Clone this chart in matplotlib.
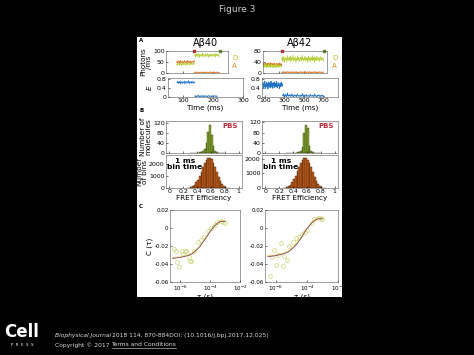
import numpy as np
import matplotlib
matplotlib.use("Agg")
import matplotlib.pyplot as plt

W, H = 474, 355

# ---- dados: traços de fótons (A) ----
# Abeta40: limites dos segmentos (ms)
t40_pre = (80, 139)
t40_pos = (139, 222)
d40_pre = [38, 42, 35, 44, 40, 36, 47, 41, 33, 45, 39, 43, 37, 48, 40, 35, 42, 46, 38, 41, 44, 36, 40, 47, 39, 43, 37, 42, 45, 40]
a40_pre = [50, 45, 55, 48, 52, 44, 58, 47, 51, 46, 54, 49, 43, 56, 50, 47, 53, 45, 57, 49, 52, 46, 55, 48, 44, 53, 50, 47, 56, 51]
d40_pos = [78, 84, 72, 88, 80, 75, 90, 82, 70, 86, 79, 83, 74, 91, 77, 85, 81, 73, 87, 80, 76, 89, 82, 71,
           84, 78, 86, 74, 83, 80, 88, 76, 81, 85, 72, 90, 79, 83, 77, 86, 80, 75]
a40_pos = [2, 4, 1, 3, 5, 2, 0, 3, 4, 1, 2, 5, 3, 1, 4, 2, 3, 0, 5, 2, 1, 3, 4, 2, 1, 3, 5, 2, 4, 1, 3, 2, 0, 4, 3, 1, 2, 5, 3, 2, 1, 3]

# Abeta42
t42_pre = (80, 272)
t42_pos = (272, 705)
d42_pre = [24, 28, 20, 31, 25, 22, 33, 26, 19, 29, 23, 27, 21, 32, 25, 24, 30, 20, 27, 23, 34, 26, 22, 28, 19,
           31, 25, 23, 29, 21, 27, 33, 24, 20, 28, 26, 22, 30, 25, 21, 29, 24, 27, 23, 26]
a42_pre = [31, 27, 35, 29, 33, 26, 37, 30, 28, 34, 32, 25, 36, 29, 31, 27, 33, 38, 28, 30, 26, 35, 31, 29, 34,
           27, 32, 36, 28, 30, 25, 33, 29, 35, 31, 27, 34, 30, 28, 32, 36, 29, 31, 27, 33]
d42_pos = [48, 56, 42, 61, 50, 38, 58, 47, 53, 40, 63, 49, 55, 44, 52, 60, 41, 57, 46, 51, 65, 43, 54, 48, 59,
           39, 52, 47, 62, 45, 56, 50, 41, 58, 53, 46, 64, 49, 55, 43, 51, 60, 44, 57, 48, 53, 38, 61, 50, 46,
           59, 42, 54, 49, 63, 45, 52, 57, 40, 55, 48, 61, 44, 50, 58, 47, 53, 42, 60, 51, 46, 56, 49, 54, 43]
a42_pos = [3, 1, 4, 2, 5, 0, 3, 2, 4, 1, 3, 5, 2, 1, 4, 3, 0, 2, 5, 3, 1, 4, 2, 3, 1, 5, 2, 4, 0, 3, 2, 1, 4,
           3, 5, 2, 1, 3, 4, 2, 0, 3, 5, 1, 2, 4, 3, 1, 2, 5, 3, 0, 4, 2, 1, 3, 4, 2, 5, 1, 3, 2, 4, 0, 3,
           1, 2, 5, 3, 2, 4, 1, 3, 2, 4]

# eficiência E
e40_pre = (80, 139)
e40_pos = (139, 214)
e40_hi = [0.65, 0.70, 0.60, 0.68, 0.63, 0.72, 0.58, 0.66, 0.69, 0.61, 0.67, 0.64, 0.71, 0.59, 0.66, 0.70, 0.62,
          0.68, 0.65, 0.73, 0.60, 0.67, 0.64, 0.69, 0.62, 0.70, 0.66, 0.61, 0.68, 0.64]
e40_lo = [0.04, 0.02, 0.06, 0.01, 0.05, 0.03, 0.08, 0.02, 0.04, 0.00, 0.06, 0.03, 0.05, 0.02, 0.07, 0.01, 0.04,
          0.03, 0.06, 0.02, 0.05, 0.01, 0.04, 0.07, 0.03, 0.02, 0.05, 0.04, 0.01, 0.06, 0.03, 0.02, 0.05, 0.04,
          0.03, 0.06, 0.02, 0.04]
e42_pre = (80, 282)
e42_pos = (282, 710)
e42_hi = [0.55, 0.42, 0.64, 0.48, 0.70, 0.38, 0.58, 0.51, 0.66, 0.44, 0.60, 0.36, 0.53, 0.68, 0.47, 0.62, 0.40,
          0.57, 0.71, 0.45, 0.55, 0.63, 0.39, 0.59, 0.50, 0.67, 0.43, 0.56, 0.61, 0.46, 0.69, 0.52, 0.41, 0.58,
          0.64, 0.49, 0.54, 0.37, 0.62, 0.57, 0.45, 0.66, 0.51, 0.59, 0.48]
e42_lo = [0.06, 0.15, 0.02, 0.09, 0.04, 0.12, 0.01, 0.07, 0.18, 0.03, 0.08, 0.05, 0.11, 0.02, 0.06, 0.14, 0.03,
          0.09, 0.01, 0.05, 0.10, 0.04, 0.07, 0.02, 0.13, 0.05, 0.03, 0.08, 0.06, 0.01, 0.10, 0.04, 0.07, 0.16,
          0.02, 0.05, 0.09, 0.03, 0.06, 0.11, 0.02, 0.04, 0.08, 0.05, 0.01, 0.07, 0.12, 0.03, 0.06, 0.04, 0.09,
          0.02, 0.05, 0.14, 0.03, 0.07, 0.04, 0.01, 0.08, 0.05, 0.10, 0.03, 0.06, 0.02, 0.09, 0.04, 0.07, 0.03,
          0.05, 0.02]

# ---- dados: histogramas (B) ----
bordas = [0.300, 0.325, 0.350, 0.375, 0.400, 0.425, 0.450, 0.475, 0.500, 0.525, 0.550, 0.575,
          0.600, 0.625, 0.650, 0.675, 0.700, 0.725, 0.750, 0.775]
mol40 = [0, 1, 1, 2, 2, 3, 4, 8, 15, 40, 85, 112, 75, 30, 10, 4, 2, 1, 1, 0]
mol42 = [0, 0, 0, 1, 1, 1, 2, 3, 6, 22, 80, 108, 98, 28, 6, 2, 1, 0, 0, 0]
bordas_bins = [0.250, 0.275, 0.300, 0.325, 0.350, 0.375, 0.400, 0.425, 0.450, 0.475, 0.500, 0.525, 0.550,
               0.575, 0.600, 0.625, 0.650, 0.675, 0.700, 0.725, 0.750, 0.775, 0.800, 0.825, 0.850]
bins40 = [10, 30, 70, 150, 280, 470, 720, 1020, 1380, 1750, 2100, 2380, 2540, 2560, 2430, 2150, 1780,
          1350, 930, 580, 320, 150, 60, 20, 5]
bins42 = [8, 25, 60, 125, 230, 390, 590, 840, 1130, 1430, 1700, 1910, 2030, 2050, 1940, 1720, 1420,
          1080, 750, 470, 260, 120, 50, 16, 4]

# ---- dados: correlação (C) ----
tau40 = [4e-7, 5e-7, 6e-7, 8e-7, 1.2e-6, 1.5e-6, 2e-6, 2.5e-6, 3.5e-6, 4.5e-6, 5.5e-6, 8e-6, 1.5e-5,
         2.5e-5, 4e-5, 7e-5, 1.2e-4, 2e-4, 3e-4, 5e-4, 7e-4, 1e-3]
c40 = [-0.023, -0.025, -0.038, -0.043, -0.026, -0.029, -0.026, -0.026, -0.032, -0.037, -0.037, -0.025,
       -0.015, -0.013, -0.010, -0.003, 0.000, 0.003, 0.007, 0.008, 0.007, 0.006]
tau42 = [4e-7, 6e-7, 8e-7, 1e-6, 1.3e-6, 2e-6, 3e-6, 3.5e-6, 5e-6, 7e-6, 1.2e-5, 2e-5, 3e-5, 5e-5,
         8e-5, 1e-4, 2e-4, 3e-4, 5e-4, 8e-4, 1e-3]
c42 = [-0.053, -0.032, -0.024, -0.041, -0.030, -0.017, -0.042, -0.031, -0.035, -0.020, -0.015, -0.011,
       -0.010, -0.007, -0.004, -0.002, 0.006, 0.010, 0.011, 0.011, 0.010]
tau_ajuste = [3e-7, 1e-6, 3e-6, 6e-6, 1e-5, 2e-5, 4e-5, 7e-5, 1e-4, 2e-4, 3e-4, 5e-4, 1e-3]
ajuste40 = [-0.033, -0.032, -0.030, -0.028, -0.025, -0.020, -0.013, -0.007, -0.003, 0.003, 0.006, 0.008, 0.008]
ajuste42 = [-0.031, -0.030, -0.028, -0.026, -0.023, -0.018, -0.011, -0.004, 0.000, 0.006, 0.009, 0.011, 0.011]

cor_d = "#b6cf3a"
cor_a = "#dd6f22"
cor_e = "#1f72c4"
cor_hist_v = "#86a82c"
cor_hist_l = "#c9621c"
fs_tick = 4.5
fs_lab = 5.2

fig = plt.figure(figsize=(W / 100, H / 100), dpi=100)
fig.patch.set_facecolor("black")


def caixa(x0, y0, x1, y1):
    return [x0 / W, 1 - y1 / H, (x1 - x0) / W, (y1 - y0) / H]


def texto(x, y, s, **kw):
    return fig.text(x / W, 1 - y / H, s, **kw)


# painel branco (eixo de fundo)
fundo = fig.add_axes(caixa(137, 37, 342, 297), zorder=-10)
fundo.set_facecolor("white")
fundo.set_xticks([])
fundo.set_yticks([])
for s in fundo.spines.values():
    s.set_visible(False)


def estilo(ax, fs=fs_tick):
    ax.tick_params(direction="in", length=1.5, width=0.4, labelsize=fs, pad=1)
    for s in ax.spines.values():
        s.set_linewidth(0.4)
        s.set_color("#555555")


def serie(seg, valores):
    return np.linspace(seg[0], seg[1], len(valores))


# ---- A: fótons ----
for caixa_px, pre, pos, dpre, apre, dpos, apos, ylim, yt, xlim, dx in [
        ((166, 51, 228, 73), t40_pre, t40_pos, d40_pre, a40_pre, d40_pos, a40_pos, (0, 100), [0, 50, 100], (45, 250), 232),
        ((263, 51, 327, 73), t42_pre, t42_pos, d42_pre, a42_pre, d42_pos, a42_pos, (0, 80), [0, 40, 80], (80, 740), 332)]:
    ax = fig.add_axes(caixa(*caixa_px))
    estilo(ax)
    tp, tq = serie(pre, dpre), serie(pos, dpos)
    ax.plot(tp, apre, color=cor_a, lw=0.6)
    ax.plot(tp, dpre, color=cor_d, lw=0.6)
    ax.plot(tq, dpos, color=cor_d, lw=0.6)
    ax.plot(tq, apos, color=cor_a, lw=0.6)
    ax.plot([pos[1], xlim[1]], [1, 1], color=cor_a, lw=0.5)
    ax.plot([pre[1]], [ylim[1]], "s", ms=2, color="#c0282a", clip_on=False)
    ax.plot([pos[1]], [ylim[1]], "s", ms=2, color="#5a8a20", clip_on=False)
    ax.set_xlim(*xlim)
    ax.set_ylim(*ylim)
    ax.set_yticks(yt)
    ax.set_xticklabels([])
    texto(dx, 58, "D", color="#c9b92a", fontsize=5, ha="left", va="center")
    texto(dx, 66, "A", color="#d88a22", fontsize=5, ha="left", va="center")
    if caixa_px[0] < 200:
        ax.set_ylabel("Photons\n/ms", fontsize=fs_lab, labelpad=1, linespacing=0.9)

# ---- A: E ----
for caixa_px, pre, pos, hi, lo, xlim, xt in [
        ((168, 78, 243, 97), e40_pre, e40_pos, e40_hi, e40_lo, (50, 300), [100, 200, 300]),
        ((262, 78, 338, 97), e42_pre, e42_pos, e42_hi, e42_lo, (70, 850), [100, 300, 500, 700])]:
    ax = fig.add_axes(caixa(*caixa_px))
    estilo(ax)
    ax.plot(serie(pre, hi), hi, color=cor_e, lw=0.6)
    ax.plot(serie(pos, lo), lo, color=cor_e, lw=0.6)
    ax.set_xlim(*xlim)
    ax.set_ylim(0, 0.85)
    ax.set_yticks([0, 0.4, 0.8])
    ax.set_yticklabels(["0", "0.4", "0.8"])
    ax.set_xticks(xt)
    ax.set_xlabel("Time (ms)", fontsize=fs_lab, labelpad=0.5)
    if caixa_px[0] < 200:
        ax.set_ylabel("$E$", fontsize=fs_lab, labelpad=2)

# ---- B: histogramas ----
larg = 0.025
for caixa_px, mol, ymax in [((166, 121, 242, 153), mol40, 130), ((262, 121, 338, 153), mol42, 125)]:
    ax = fig.add_axes(caixa(*caixa_px))
    estilo(ax)
    ax.bar(bordas, mol, width=larg, align="edge", color=cor_hist_v, edgecolor="#2e3a10", linewidth=0.3)
    ax.set_xlim(-0.05, 1.05)
    ax.set_ylim(0, ymax)
    ax.set_yticks([0, 40, 80, 120])
    ax.set_xticks([0, 0.2, 0.4, 0.6, 0.8, 1])
    ax.set_xticklabels([])
    ax.text(0.95, 0.85, "PBS", transform=ax.transAxes, color="#b8283a", fontsize=5, fontweight="bold",
            ha="right", va="center")
    if caixa_px[0] < 200:
        ax.set_ylabel("Number of\nmolecules", fontsize=fs_lab, labelpad=1, linespacing=0.9)

for caixa_px, cont, ymax in [((166, 155, 242, 188), bins40, 2800), ((262, 155, 338, 188), bins42, 2250)]:
    ax = fig.add_axes(caixa(*caixa_px))
    estilo(ax)
    ax.bar(bordas_bins, cont, width=larg, align="edge", color=cor_hist_l, edgecolor="#3a1a08", linewidth=0.3)
    ax.set_xlim(-0.05, 1.05)
    ax.set_ylim(0, ymax)
    ax.set_yticks([0, 1000, 2000])
    ax.set_xticks([0, 0.2, 0.4, 0.6, 0.8, 1])
    ax.set_xticklabels(["0", "0.2", "0.4", "0.6", "0.8", "1"])
    ax.set_xlabel("FRET Efficiency", fontsize=fs_lab, labelpad=0.5)
    ax.text(0.25, 0.72, "1 ms\nbin time", transform=ax.transAxes, fontsize=5.4, fontweight="bold",
            ha="center", va="center", linespacing=1.1)
    if caixa_px[0] < 200:
        ax.set_ylabel("Number\nof bins", fontsize=fs_lab, labelpad=1, linespacing=0.9)

# ---- C: correlação ----
for caixa_px, tau, c, ajuste in [((170, 210, 240, 282), tau40, c40, ajuste40),
                                  ((265, 210, 338, 282), tau42, c42, ajuste42)]:
    ax = fig.add_axes(caixa(*caixa_px))
    estilo(ax, 4.1)
    ax.set_xscale("log")
    ax.plot(tau, c, "o", ms=2.8, mfc="none", mec="#c9d670", mew=0.5)
    ax.plot(tau_ajuste, ajuste, color="#d8c850", lw=0.6)
    ax.plot(tau_ajuste, [v - 0.0008 for v in ajuste], color="#7a2858", lw=0.5)
    ax.set_xlim(2e-7, 1e-2)
    ax.set_ylim(-0.06, 0.02)
    ax.set_yticks([-0.06, -0.04, -0.02, 0, 0.02])
    ax.set_yticklabels(["-0.06", "-0.04", "-0.02", "0", "0.02"])
    ax.set_xticks([1e-6, 1e-4, 1e-2])
    ax.set_xticklabels(["10$^{-6}$", "10$^{-4}$", "10$^{-2}$"])
    ax.minorticks_off()
    ax.set_xlabel("τ (s)", fontsize=fs_lab, labelpad=0.5)
    if caixa_px[0] < 200:
        ax.set_ylabel("C (τ)", fontsize=fs_lab, labelpad=1)

# títulos e letras
texto(205, 43, "Aβ40", fontsize=7, ha="center", va="center")
texto(300, 43, "Aβ42", fontsize=7, ha="center", va="center")
for letra, y in [("A", 41), ("B", 110), ("C", 206)]:
    texto(139, y, letra, fontsize=4, fontweight="bold", ha="left", va="center")

texto(237, 10, "Figure 3", color="#cccccc", fontsize=6.5, ha="center", va="center")

# logo e citação
texto(22, 332, "Cell", color="white", fontsize=12, fontweight="bold", ha="center", va="center")
texto(22, 345, "P  R  E  S  S", color="white", fontsize=2.8, ha="center", va="center")
fig.canvas.draw()
r = fig.canvas.get_renderer()
t1 = texto(55, 336, "Biophysical Journal", color="#dddddd", fontsize=4.3, style="italic",
           ha="left", va="center")
x_fim = t1.get_window_extent(r).x1
fig.text(x_fim / W + 0.002, 1 - 336 / H, "2018 114, 870-884DOI: (10.1016/j.bpj.2017.12.025)",
         color="#dddddd", fontsize=4.3, ha="left", va="center")
t2 = texto(55, 345, "Copyright © 2017 ", color="#dddddd", fontsize=4.3, ha="left", va="center")
x_fim = t2.get_window_extent(r).x1
t3 = fig.text(x_fim / W, 1 - 345 / H, "Terms and Conditions", color="#dddddd", fontsize=4.3,
              ha="left", va="center")
b = t3.get_window_extent(r)
fig.add_artist(plt.Line2D([b.x0 / W, b.x1 / W], [(b.y0 - 0.5) / H, (b.y0 - 0.5) / H],
                          color="#dddddd", lw=0.4, transform=fig.transFigure))

fig.savefig("out.png", dpi=100, facecolor="black")
